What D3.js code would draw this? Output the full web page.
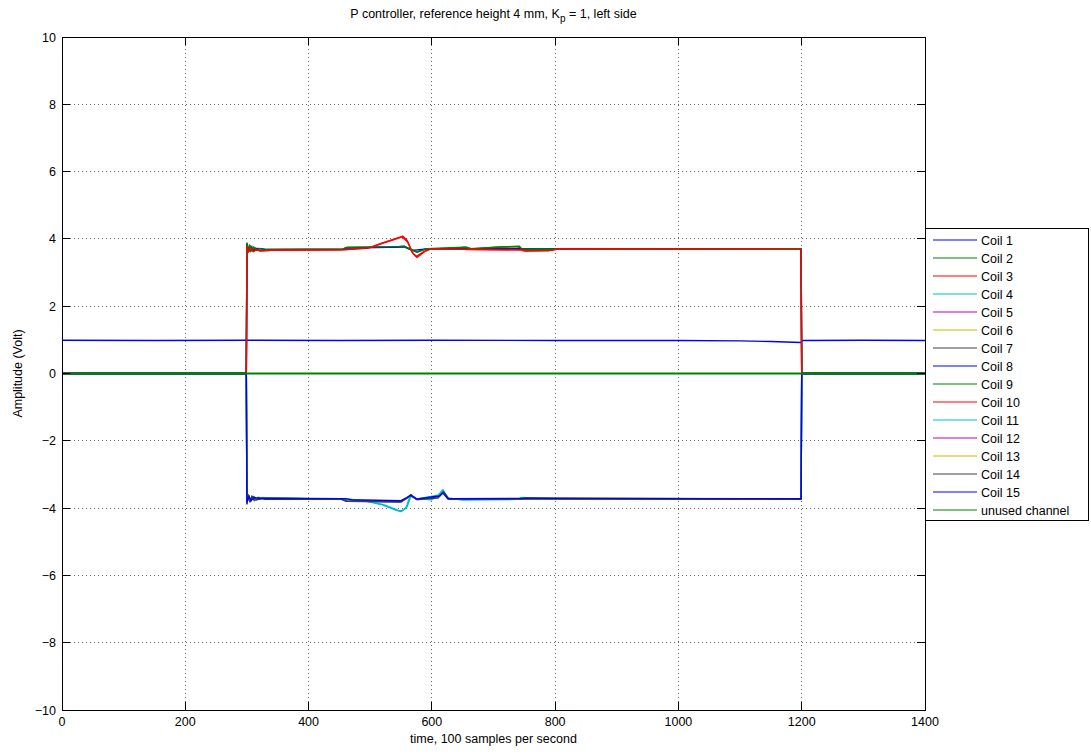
<!DOCTYPE html>
<html>
<head>
<meta charset="utf-8">
<script src="https://cdn.jsdelivr.net/npm/d3@7"></script>
<style>
  body { margin: 0; background: #fff; }
  svg { font-family: "Liberation Sans", Arial, Helvetica, sans-serif; }
</style>
</head>
<body>
<svg id="chart" width="1091" height="754"></svg>
<script>
// ---------- data ----------
const titleText = "P controller, reference height 4 mm, K";
const xTicks = [0, 200, 400, 600, 800, 1000, 1200, 1400];
const yTicks = [-10, -8, -6, -4, -2, 0, 2, 4, 6, 8, 10];
const seriesNames = ["Coil 1","Coil 2","Coil 3","Coil 4","Coil 5","Coil 6","Coil 7","Coil 8",
  "Coil 9","Coil 10","Coil 11","Coil 12","Coil 13","Coil 14","Coil 15","unused channel"];
const seriesColors = ["#0000ff","#008000","#ff0000","#00bfbf","#bf00bf","#bfbf00","#404040","#0000ff",
  "#008000","#ff0000","#00bfbf","#bf00bf","#bfbf00","#404040","#0000ff","#008000"];

// Coil 1: about 1 V, sagging just before t=1200
const coil1 = [[0,0.99],[150,0.98],[300,0.99],[450,0.98],[600,0.99],[800,0.98],[1000,0.98],[1100,0.97],[1150,0.95],[1199,0.92],[1201,0.98],[1300,0.99],[1400,0.98]];
// upper green (Coil 2)
const coil2 = [[0,0],[299,0],[300,3.88],[302,3.6],[304,3.82],[306,3.62],[308,3.78],[310,3.64],[313,3.74],[316,3.66],[320,3.72],[330,3.68],[400,3.69],[455,3.69],[460,3.74],[540,3.76],[555,3.78],[565,3.7],[575,3.62],[590,3.7],[640,3.72],[655,3.76],[665,3.7],[710,3.76],[740,3.77],[745,3.69],[1199,3.7],[1200,0],[1400,0]];
// upper red (Coil 3)
const coil3 = [[0,0],[299,0],[300,3.8],[303,3.62],[306,3.75],[310,3.62],[315,3.7],[320,3.64],[340,3.66],[450,3.67],[495,3.72],[520,3.88],[540,4.0],[553,4.08],[560,3.95],[568,3.6],[575,3.48],[585,3.6],[595,3.7],[650,3.72],[655,3.68],[745,3.67],[750,3.64],[790,3.65],[800,3.7],[1199,3.7],[1200,0],[1400,0]];
// lower cyan (Coil 4)
const coil4 = [[0,0],[299,0],[300,-3.85],[303,-3.62],[306,-3.8],[310,-3.65],[315,-3.74],[320,-3.68],[400,-3.72],[460,-3.74],[490,-3.78],[520,-3.9],[540,-4.05],[550,-4.1],[558,-4.0],[565,-3.62],[575,-3.72],[600,-3.75],[612,-3.6],[618,-3.45],[626,-3.7],[650,-3.76],[740,-3.74],[745,-3.68],[800,-3.72],[1199,-3.72],[1200,0],[1400,0]];
// lower black (Coil 7)
const coil7 = [[0,0],[299,0],[300,-3.88],[302,-3.6],[305,-3.82],[308,-3.64],[312,-3.78],[318,-3.68],[330,-3.74],[455,-3.74],[462,-3.8],[550,-3.82],[560,-3.7],[566,-3.6],[575,-3.74],[610,-3.7],[618,-3.5],[626,-3.72],[745,-3.74],[750,-3.7],[1199,-3.73],[1200,0],[1400,0]];
// upper blue (Coil 8)
const coil8 = [[0,0],[299,0],[300,3.84],[303,3.64],[306,3.78],[310,3.66],[316,3.72],[330,3.69],[458,3.69],[462,3.73],[555,3.76],[568,3.66],[580,3.68],[595,3.71],[1199,3.71],[1200,0],[1400,0]];
// upper green (Coil 9)
const coil9 = [[0,0],[299,0],[300,3.86],[302,3.62],[305,3.8],[308,3.64],[311,3.76],[315,3.67],[320,3.71],[330,3.69],[458,3.7],[462,3.75],[545,3.77],[556,3.78],[566,3.68],[576,3.6],[592,3.71],[652,3.75],[662,3.71],[705,3.75],[742,3.78],[746,3.7],[1199,3.71],[1200,0],[1400,0]];
// upper red (Coil 10)
const coil10 = [[0,0],[299,0],[300,3.78],[303,3.64],[307,3.74],[311,3.63],[316,3.69],[322,3.65],[350,3.67],[460,3.68],[500,3.74],[525,3.9],[545,4.02],[552,4.06],[561,3.9],[570,3.55],[576,3.45],[588,3.62],[598,3.7],[748,3.68],[752,3.65],[795,3.66],[805,3.7],[1199,3.69],[1200,0],[1400,0]];
// lower cyan (Coil 11)
const coil11 = [[0,0],[299,0],[300,-3.83],[303,-3.64],[307,-3.78],[311,-3.66],[316,-3.73],[330,-3.7],[470,-3.74],[500,-3.8],[525,-3.92],[545,-4.07],[552,-4.08],[560,-3.95],[566,-3.64],[576,-3.73],[610,-3.62],[617,-3.48],[627,-3.72],[1199,-3.73],[1200,0],[1400,0]];
// lower black (Coil 14)
const coil14 = [[0,0],[299,0],[300,-3.86],[303,-3.62],[306,-3.8],[310,-3.66],[315,-3.76],[325,-3.7],[450,-3.72],[460,-3.79],[548,-3.81],[558,-3.72],[565,-3.62],[576,-3.75],[612,-3.66],[619,-3.52],[628,-3.73],[1199,-3.74],[1200,0],[1400,0]];
// lower blue (Coil 15)
const coil15 = [[0,0],[299,0],[300,-3.82],[303,-3.66],[307,-3.77],[312,-3.68],[320,-3.72],[460,-3.72],[470,-3.75],[550,-3.78],[560,-3.68],[566,-3.62],[576,-3.73],[612,-3.64],[618,-3.55],[626,-3.72],[760,-3.71],[1199,-3.72],[1200,0],[1400,0]];
// channels that stay at zero (Coils 5, 6, 12, 13, unused)
const coil5 = [[0,0],[1400,0]];
const coil6 = [[0,0],[1400,0]];
const coil12 = [[0,0],[1400,0]];
const coil13 = [[0,0],[1400,0]];
const unused = [[0,0],[1400,0]];

const seriesData = [coil1, coil2, coil3, coil4, coil5, coil6, coil7, coil8,
  coil9, coil10, coil11, coil12, coil13, coil14, coil15, unused];
const zeroOnly = [4, 5, 11, 12];

// ---------- layout ----------
const svg = d3.select("#chart");
const M = { left: 62, right: 925, top: 37, bottom: 710 };
const x = d3.scaleLinear().domain([0, 1400]).range([M.left, M.right]);
const y = d3.scaleLinear().domain([-10, 10]).range([M.bottom, M.top]);

svg.append("rect").attr("x", 0).attr("y", 0).attr("width", 1091).attr("height", 754).attr("fill", "#fff");

// grid
const grid = svg.append("g").attr("stroke", "#000").attr("stroke-width", 0.6).attr("stroke-dasharray", "1,3").attr("shape-rendering", "crispEdges");
xTicks.slice(1, -1).forEach(t => {
  grid.append("line").attr("x1", x(t)).attr("x2", x(t)).attr("y1", M.top).attr("y2", M.bottom);
});
yTicks.slice(1, -1).forEach(t => {
  grid.append("line").attr("x1", M.left).attr("x2", M.right).attr("y1", y(t)).attr("y2", y(t));
});

// series
svg.append("clipPath").attr("id", "clip").append("rect")
  .attr("x", M.left).attr("y", M.top).attr("width", M.right - M.left).attr("height", M.bottom - M.top);
const line = d3.line().x(d => x(d[0])).y(d => y(d[1]));
const lines = svg.append("g").attr("clip-path", "url(#clip)");
seriesData.forEach((s, i) => {
  const w = i === seriesData.length - 1 ? 2 : (zeroOnly.includes(i) ? 1 : 1.4);
  lines.append("path").datum(s).attr("d", line).attr("fill", "none")
    .attr("stroke", seriesColors[i])
    .attr("stroke-width", w)
    .attr("stroke-linejoin", "round");
});

// axes (MATLAB style: inward ticks on all four sides)
const tickLen = 8;
const ax = svg.append("g").attr("stroke", "#000").attr("stroke-width", 1).attr("shape-rendering", "crispEdges");
ax.append("rect").attr("x", M.left).attr("y", M.top).attr("width", M.right - M.left).attr("height", M.bottom - M.top).attr("fill", "none");
xTicks.forEach(t => {
  ax.append("line").attr("x1", x(t)).attr("x2", x(t)).attr("y1", M.bottom).attr("y2", M.bottom - tickLen);
  ax.append("line").attr("x1", x(t)).attr("x2", x(t)).attr("y1", M.top).attr("y2", M.top + tickLen);
});
yTicks.forEach(t => {
  ax.append("line").attr("x1", M.left).attr("x2", M.left + tickLen).attr("y1", y(t)).attr("y2", y(t));
  ax.append("line").attr("x1", M.right).attr("x2", M.right - tickLen).attr("y1", y(t)).attr("y2", y(t));
});

const fmt = v => (v < 0 ? "\u2212" + Math.abs(v) : String(v));
const labels = svg.append("g").attr("font-size", 12.5).attr("fill", "#000");
xTicks.forEach(t => {
  labels.append("text").attr("x", x(t)).attr("y", M.bottom + 16).attr("text-anchor", "middle").text(fmt(t));
});
yTicks.forEach(t => {
  labels.append("text").attr("x", M.left - 6).attr("y", y(t) + 4.5).attr("text-anchor", "end").text(fmt(t));
});

svg.append("text").attr("x", (M.left + M.right) / 2).attr("y", 743).attr("text-anchor", "middle")
  .attr("font-size", 12.5).text("time, 100 samples per second");
svg.append("text").attr("transform", `translate(22,${(M.top + M.bottom) / 2}) rotate(-90)`)
  .attr("text-anchor", "middle").attr("font-size", 12.5).text("Amplitude (Volt)");

const title = svg.append("text").attr("x", (M.left + M.right) / 2).attr("y", 18)
  .attr("text-anchor", "middle").attr("font-size", 12.5);
title.append("tspan").text(titleText);
title.append("tspan").attr("dy", 4).attr("font-size", 10).text("p");
title.append("tspan").attr("dy", -4).text(" = 1, left side");

// legend
const L = { x: 925, y: 228, w: 163, h: 292 };
const leg = svg.append("g");
leg.append("rect").attr("x", L.x).attr("y", L.y).attr("width", L.w).attr("height", L.h)
  .attr("fill", "#fff").attr("stroke", "#000").attr("stroke-width", 1).attr("shape-rendering", "crispEdges");
const rowH = 18.0;
seriesNames.forEach((name, i) => {
  const yy = L.y + 12 + i * rowH;
  leg.append("path").attr("d", `M${L.x + 8},${yy}H${L.x + 52}`)
    .style("stroke", seriesColors[i]).style("stroke-width", "1.2px").style("fill", "none");
  leg.append("text").attr("x", L.x + 56).attr("y", yy + 4.5).attr("font-size", 12.5).text(name);
});
</script>
</body>
</html>
